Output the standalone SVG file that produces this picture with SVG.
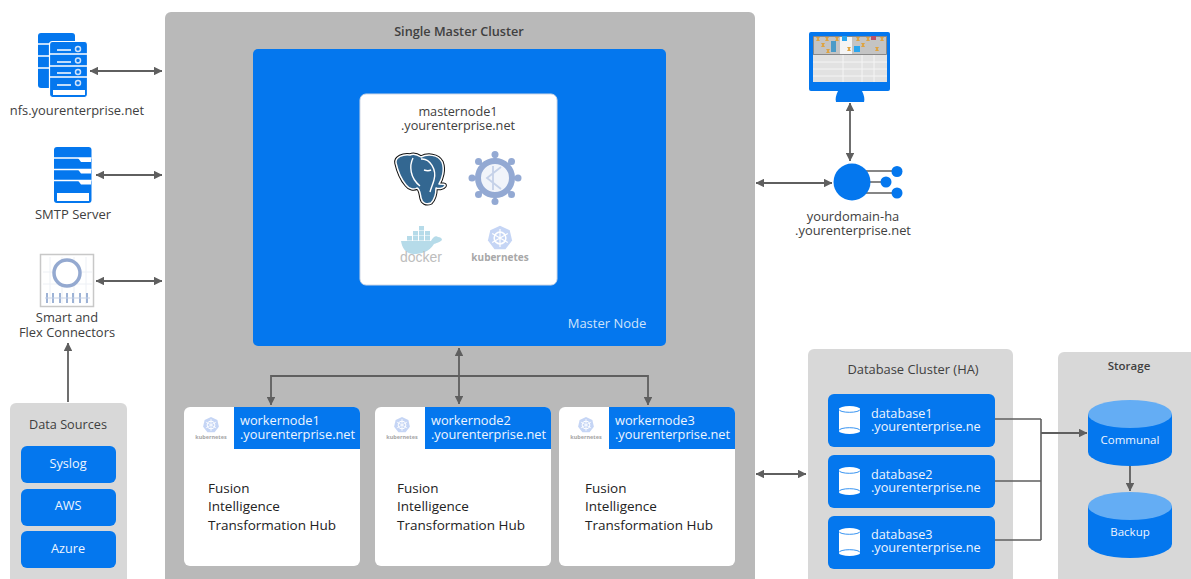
<svg xmlns="http://www.w3.org/2000/svg" width="1191" height="579" viewBox="0 0 1191 579">
<style>
text{font-family:"Open Sans","Noto Sans","Liberation Sans",sans-serif;font-size:12.700px;fill:#404040}
.c{text-anchor:middle}
.w{fill:#eef5ff}
.b{font-weight:600}
.blue{fill:#0477ee}
.pan{fill:#d8d8d8}
.wh{fill:#fff}
.con{fill:none;stroke:#5f5f5f;stroke-width:1.800}
.thin{fill:none;stroke:#5f5f5f;stroke-width:1.600}
.sep{stroke:#fff;stroke-width:1.500;fill:none}
.k{fill:#c5d5f5}
.hub{fill:#222;font-size:13.500px}
.wk{font-size:12.800px}
</style>
<defs>
<marker id="ah" viewBox="0 0 10 10" refX="9.500" refY="5" markerWidth="4.800" markerHeight="4.800" orient="auto-start-reverse"><path d="M0 0L10 5L0 10Z" fill="#5f5f5f"/></marker>
<g id="cyl"><rect x="0" y="2.500" width="21" height="23" fill="#fff"/><ellipse cx="10.500" cy="3" rx="10.500" ry="3" fill="#fff"/><ellipse cx="10.500" cy="25" rx="10.500" ry="3" fill="#fff"/><path d="M0 3.500a10.500 2.800 0 0 0 21 0M0 24.500a10.500 2.800 0 0 1 21 0" fill="none" stroke="#0477ee" stroke-width=".8"/></g>
<g id="kub"><path d="M0-9.500L7.500-6L9.300 2L4.200 8.600H-4.200L-9.300 2L-7.500-6Z" class="k"/><circle r="4.500" fill="none" stroke="#fff" stroke-width="1.200"/><path d="M0-7V7M-6-3.500L6 3.500M-6 3.500L6-3.500" stroke="#fff" stroke-width=".9"/></g>
<g id="dbt"><rect width="167" height="53" rx="6" class="blue"/></g>
<g id="wcard"><rect width="176" height="159" rx="6" class="wh"/><path d="M50 0H170a6 6 0 0 1 6 6V42H50Z" class="blue"/><use href="#kub" transform="translate(27 18) scale(.85)"/><text x="27" y="32" class="c" style="font-size:5.500px;font-weight:700;fill:#a5a5a5">kubernetes</text></g>
<g id="store"><path d="M0 14V52A42 14 0 0 0 84 52V14Z" class="blue"/><ellipse cx="42" cy="14" rx="42" ry="14" fill="#64adf4"/></g>
<path id="hg" d="M0 0H4L2.700 2L4 4H0L1.300 2Z" fill="#dfa33f"/>
<path id="pg" d="M396 163C395 157 403 154 410 155C414 153 418 155 421 157C427 154 438 154 442 162C445 170 442 179 439 184C442 184 446 184 445 186C443 189 438 189 436 188C436 193 435 199 431 203C426 205 422 203 421 198C420 193 420 189 417 188C414 190 409 189 406 185C401 179 398 172 396 163Z"/>
</defs>

<g id="single-master-cluster"><rect x="165" y="12" width="590" height="580" rx="6" fill="#b9b9b9"/><text x="459" y="36" class="c b">Single Master Cluster</text></g>

<g id="master-node"><rect x="253" y="49" width="413" height="297" rx="5" class="blue"/><text x="607" y="328" class="c" style="fill:#cfe3fb;font-size:13px">Master Node</text></g>

<g id="masternode1"><rect x="360" y="94" width="197" height="191" rx="6" class="wh" stroke="#cfd8e6"/>
<text class="c"><tspan x="458" y="116">masternode1</tspan><tspan x="458" y="130">.yourenterprise.net</tspan></text>
<g id="postgres-icon"><use href="#pg" fill="#336791" stroke="#111" stroke-width="3.500" stroke-linejoin="round"/><use href="#pg" fill="#336791" stroke="#fff" stroke-width="1.500" stroke-linejoin="round"/><path d="M413 158C409 166 410 178 420 186M421 159C430 158 437 170 434 180C433 184 431 188 430 192M424 170C427 171 429 171 431 170" fill="none" stroke="#fff" stroke-width="1.400"/></g>
<g id="helm-icon" fill="#93a9d3"><path d="M495 156V200M473 178H517M479.400 162.400L510.600 193.600M510.600 162.400L479.400 193.600" stroke="#93a9d3" stroke-width="3"/><circle cx="495" cy="178" r="17" fill="#f1f4fa" stroke="#93a9d3" stroke-width="6"/><circle cx="495" cy="154.500" r="3.500"/><circle cx="495" cy="201.500" r="3.500"/><circle cx="472" cy="178" r="3.500"/><circle cx="518" cy="178" r="3.500"/><circle cx="478.500" cy="161.500" r="3.500"/><circle cx="511.500" cy="161.500" r="3.500"/><circle cx="478.500" cy="194.500" r="3.500"/><circle cx="511.500" cy="194.500" r="3.500"/><path d="M501 167L487 178L501 189M493 166V190" fill="none" stroke="#c5d1e8" stroke-width="1.800"/></g>
<g id="docker-icon"><g fill="#b6dbe9"><rect x="407" y="236" width="5" height="4.500"/><rect x="413" y="236" width="5" height="4.500"/><rect x="419" y="236" width="5" height="4.500"/><rect x="425" y="236" width="5" height="4.500"/><rect x="413" y="231" width="5" height="4.500"/><rect x="419" y="231" width="5" height="4.500"/><rect x="425" y="231" width="5" height="4.500"/><rect x="419" y="226" width="5" height="4.500"/></g><path d="M401 241H431C433 237 436 235 438 237C440 237 442 238 442 240C439 243 436 243 434 244C429 252 421 254 414 254C406 254 402 248 401 241Z" fill="#b6dbe9"/><text x="421" y="262" class="c" style="font-size:14px;fill:#bdbdbd;font-family:'Liberation Sans',sans-serif">docker</text></g>
<g id="kubernetes-icon"><use href="#kub" transform="translate(500 238) scale(1.300)"/><text x="500" y="261" class="c" style="font-size:10px;font-weight:700;fill:#a8a8a8">kubernetes</text></g>
</g>

<g id="workernode1"><use href="#wcard" x="184" y="407"/><text class="w wk"><tspan x="240" y="425">workernode1</tspan><tspan x="240" y="439">.yourenterprise.net</tspan></text><text class="hub"><tspan x="208" y="493">Fusion</tspan><tspan x="208" y="511">Intelligence</tspan><tspan x="208" y="530">Transformation Hub</tspan></text></g>
<g id="workernode2"><use href="#wcard" x="375" y="407"/><text class="w wk"><tspan x="431" y="425">workernode2</tspan><tspan x="431" y="439">.yourenterprise.net</tspan></text><text class="hub"><tspan x="397" y="493">Fusion</tspan><tspan x="397" y="511">Intelligence</tspan><tspan x="397" y="530">Transformation Hub</tspan></text></g>
<g id="workernode3"><use href="#wcard" x="559" y="407"/><text class="w wk"><tspan x="615" y="425">workernode3</tspan><tspan x="615" y="439">.yourenterprise.net</tspan></text><text class="hub"><tspan x="585" y="493">Fusion</tspan><tspan x="585" y="511">Intelligence</tspan><tspan x="585" y="530">Transformation Hub</tspan></text></g>

<g id="nfs"><rect x="38" y="33" width="37" height="55" rx="3" class="blue"/><path d="M38 44H76M38 56H76M38 68H76" class="sep"/><rect x="49.500" y="41.500" width="38" height="56" rx="3" class="blue" stroke="#fff" stroke-width="1.200"/><path d="M50 54H87M50 66H87M50 77H87" class="sep"/><path d="M57 50H71M57 62H71M57 73H71M57 85H71" class="sep"/><g fill="none" stroke="#cfe3fb" stroke-width="1.500"><circle cx="78" cy="49" r="2.500"/><circle cx="78" cy="60.500" r="2.500"/><circle cx="78" cy="72" r="2.500"/><circle cx="78" cy="83" r="2.500"/></g><rect x="53" y="90" width="32" height="5" fill="#fff"/><text x="77" y="115" class="c" style="font-size:12.900px">nfs.yourenterprise.net</text></g>
<g id="smtp"><rect x="54" y="147" width="37.500" height="56" rx="3" class="blue"/><path d="M54 158H91.500M54 169.500H91.500M54 180.500H91.500" class="sep"/><path d="M78 158H91V162H81ZM78 169.500H91V173.500H81ZM78 180.500H91V184.500H81Z" fill="#fff"/><rect x="57" y="193" width="32" height="8" fill="#fff"/><text x="73" y="219" class="c" style="font-size:13px">SMTP Server</text></g>
<g id="smart-flex"><rect x="40.500" y="254.500" width="53" height="52" fill="#fff" stroke="#c8c8c8" stroke-width="1.500"/><path d="M43 272H92M43 284H92M50 257V304M62 257V304M74 257V304M86 257V304" stroke="#edf0f5" fill="none"/><circle cx="67" cy="273" r="13" fill="#fff" stroke="#94a9d0" stroke-width="3.500"/><path d="M47 293v10M53 293v10M60 293v10M67 293v10M73 293v10M80 293v10M87 293v10" stroke="#7f9bc9" stroke-width="1.500"/><path d="M45 298H90" stroke="#c5d0e5"/><text class="c" style="font-size:12.900px"><tspan x="67" y="322">Smart and</tspan><tspan x="67" y="337">Flex Connectors</tspan></text></g>

<g id="data-sources"><rect x="10" y="403" width="117" height="190" rx="6" class="pan"/><text x="68" y="429" class="c">Data Sources</text></g>
<g id="syslog"><rect x="21" y="446" width="95" height="37" rx="6" class="blue"/><text x="68" y="468" class="c w">Syslog</text></g>
<g id="aws"><rect x="21" y="489" width="95" height="37" rx="6" class="blue"/><text x="68" y="510" class="c w">AWS</text></g>
<g id="azure"><rect x="21" y="531" width="95" height="37" rx="6" class="blue"/><text x="68" y="553" class="c w">Azure</text></g>

<g id="monitor"><rect x="809" y="32" width="81" height="59" rx="2" class="blue"/><rect x="813" y="36" width="74" height="46" fill="#e2e2e2"/><rect x="813.500" y="36.500" width="73" height="18" fill="#c4c4c4" stroke="#777" stroke-width=".8"/><rect x="840" y="37" width="12" height="17" fill="#f4f4f4"/><path d="M813 62H887M813 69H887M813 76H887M843 55V82M862 55V82M874 55V82" stroke="#f5f5f5" fill="none"/><use href="#hg" x="816" y="37"/><use href="#hg" x="825" y="37"/><use href="#hg" x="835" y="37"/><use href="#hg" x="821" y="43"/><use href="#hg" x="826" y="49"/><use href="#hg" x="856" y="37"/><use href="#hg" x="866" y="37"/><use href="#hg" x="861" y="43"/><use href="#hg" x="847" y="47"/><use href="#hg" x="875" y="47"/><use href="#hg" x="880" y="37"/><rect x="842" y="36" width="5" height="5" fill="#2aa5ee"/><rect x="854" y="46" width="6" height="6" fill="#2aa5ee"/><rect x="871" y="36" width="5" height="4" fill="#b95068"/><rect x="831" y="41" width="5" height="11" fill="#4a9bc8"/><path d="M838 91H862C864 95 865 99 864 102H836C835 99 836 95 838 91Z" class="blue"/></g>

<g id="yourdomain-ha"><path d="M852 171H897M852 182H886M852 193H897" stroke="#5f5f5f" stroke-width="1.500"/><circle cx="852" cy="182" r="18.500" class="blue"/><circle cx="897" cy="171.500" r="5.500" class="blue"/><circle cx="886" cy="182" r="5.500" class="blue"/><circle cx="897" cy="193" r="5.500" class="blue"/><text class="c" style="font-size:12.900px"><tspan x="853" y="221">yourdomain-ha</tspan><tspan x="853" y="235">.yourenterprise.net</tspan></text></g>

<g id="database-cluster"><rect x="808" y="349" width="205" height="245" rx="6" class="pan"/><text x="913" y="374" class="c" style="font-size:12.900px">Database Cluster (HA)</text></g>
<g id="database1"><use href="#dbt" x="828" y="394"/><use href="#cyl" x="839" y="406"/><text class="w"><tspan x="871" y="418">database1</tspan><tspan x="871" y="431">.yourenterprise.ne</tspan></text></g>
<g id="database2"><use href="#dbt" x="828" y="455"/><use href="#cyl" x="839" y="467"/><text class="w"><tspan x="871" y="479">database2</tspan><tspan x="871" y="492">.yourenterprise.ne</tspan></text></g>
<g id="database3"><use href="#dbt" x="828" y="516"/><use href="#cyl" x="839" y="528"/><text class="w"><tspan x="871" y="539">database3</tspan><tspan x="871" y="552">.yourenterprise.ne</tspan></text></g>

<g id="storage"><rect x="1058" y="352" width="145" height="240" rx="6" class="pan"/><text x="1129" y="370" class="c b" style="font-size:11.500px">Storage</text></g>
<g id="communal"><use href="#store" x="1088" y="400"/><text x="1130" y="444" class="c w" style="font-size:11.500px">Communal</text></g>
<g id="backup"><use href="#store" x="1088" y="492"/><text x="1130" y="536" class="c w" style="font-size:11.500px">Backup</text></g>

<g id="connectors">
<path class="con" d="M90 71H162" marker-start="url(#ah)" marker-end="url(#ah)"/>
<path class="con" d="M96 175H162" marker-start="url(#ah)" marker-end="url(#ah)"/>
<path class="con" d="M96 281H162" marker-start="url(#ah)" marker-end="url(#ah)"/>
<path class="con" d="M68 402V343" marker-end="url(#ah)"/>
<path class="con" d="M459 348V404" marker-start="url(#ah)" marker-end="url(#ah)"/>
<path class="con" d="M271 405V376H648V405" marker-start="url(#ah)" marker-end="url(#ah)"/>
<path class="con" d="M850 103V161" marker-start="url(#ah)" marker-end="url(#ah)"/>
<path class="con" d="M756 183H832" marker-start="url(#ah)" marker-end="url(#ah)"/>
<path class="con" d="M756 474H806" marker-start="url(#ah)" marker-end="url(#ah)"/>
<path class="thin" d="M995 419H1041M995 481H1041M995 540H1041M1041 419V540"/>
<path class="con" d="M1041 433H1087" marker-end="url(#ah)"/>
<path class="con" d="M1130 466V491" marker-end="url(#ah)"/>
</g>
</svg>
